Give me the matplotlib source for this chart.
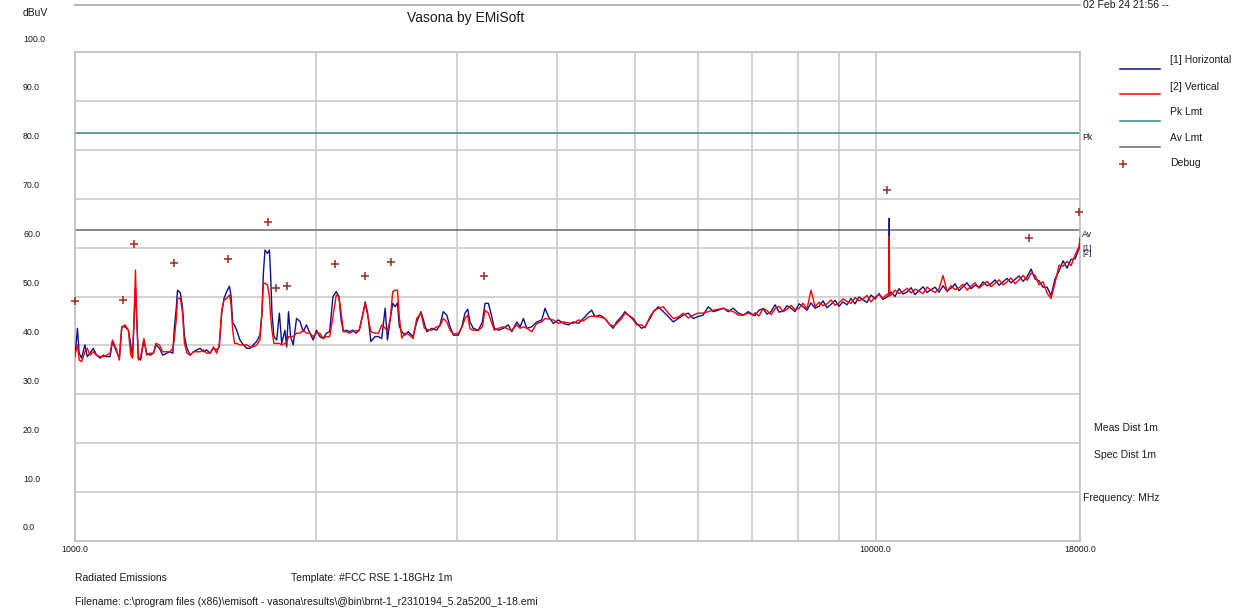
import numpy as np
import matplotlib.pyplot as plt
from matplotlib.lines import Line2D
from matplotlib.ticker import NullFormatter
from matplotlib.transforms import ScaledTranslation, blended_transform_factory

plt.rcParams['font.family'] = ['Liberation Sans', 'DejaVu Sans']

# --- sweep data (MHz, dBuV) ---
freq_low = [1000, 1007, 1012, 1019, 1029, 1036, 1044, 1054, 1064, 1075, 1085, 1095, 1106, 1114,
            1127, 1136, 1144, 1155, 1166, 1174, 1180, 1186, 1190, 1194, 1200, 1208, 1219, 1229,
            1241, 1253, 1262, 1275, 1287, 1302, 1314, 1325, 1330, 1338, 1343, 1354, 1362, 1370,
            1380, 1393, 1406, 1420, 1433, 1447, 1460, 1475, 1489, 1503, 1514, 1525, 1535, 1547,
            1559, 1566, 1574, 1582, 1592, 1607, 1623, 1639, 1654, 1670, 1686, 1702, 1712, 1719,
            1727, 1739, 1749, 1755, 1762, 1772, 1786, 1800, 1812, 1829, 1838, 1848, 1859, 1873,
            1891, 1910, 1928, 1946, 1965, 1984, 2003, 2022, 2041, 2061, 2080, 2100, 2120, 2136,
            2150, 2164, 2181, 2202, 2223, 2244, 2265, 2287, 2304, 2320, 2342, 2370, 2393, 2416,
            2440, 2456, 2475, 2494, 2511, 2528, 2541, 2559]
horiz_low = [37.7, 43.5, 38.4, 37.4, 40.1, 37.7, 38.4, 39.4, 38.0, 37.4, 38.0, 37.7, 37.7, 40.8,
             38.7, 37.4, 43.8, 43.8, 43.1, 40.1, 37.7, 46.6, 52.0, 45.9, 37.4, 37.0, 41.1, 38.4,
             38.0, 38.4, 40.1, 39.4, 38.0, 38.4, 38.7, 38.4, 43.1, 47.6, 51.3, 50.7, 47.9, 41.8,
             39.4, 38.0, 38.7, 39.1, 39.4, 38.7, 39.1, 38.4, 39.4, 39.1, 39.7, 46.6, 49.6, 51.0,
             52.1, 50.3, 44.5, 44.2, 43.1, 41.1, 40.1, 39.4, 39.4, 40.1, 40.8, 42.1, 46.6, 54.7,
             59.5, 58.8, 59.5, 54.7, 46.6, 41.8, 41.1, 46.6, 40.4, 43.1, 39.7, 46.9, 41.8, 40.1,
             45.5, 44.9, 42.8, 44.2, 42.5, 41.1, 43.1, 41.8, 41.4, 42.5, 42.8, 50.0, 51.0, 50.0,
             45.2, 42.8, 43.1, 42.8, 43.1, 42.5, 43.1, 46.2, 48.9, 46.6, 40.8, 41.8, 41.8, 41.4,
             47.6, 41.1, 45.2, 48.6, 47.9, 48.7, 44.0, 42.8]
vert_low = [38.0, 40.1, 37.0, 36.7, 38.7, 39.4, 38.0, 38.7, 38.0, 37.7, 37.7, 38.0, 38.4, 41.1,
            39.1, 37.0, 43.8, 44.2, 43.1, 38.0, 37.4, 47.2, 55.4, 45.9, 37.0, 37.7, 41.4, 38.0,
            38.4, 38.4, 40.4, 40.1, 38.7, 38.7, 38.7, 39.4, 41.1, 45.2, 49.6, 49.6, 46.9, 40.4,
            38.4, 38.0, 38.7, 38.7, 38.7, 39.1, 38.4, 38.4, 39.7, 38.4, 40.1, 47.2, 49.3, 49.6,
            50.3, 48.6, 43.0, 40.4, 40.4, 40.1, 40.1, 40.1, 39.7, 39.7, 40.1, 41.1, 46.6, 52.7,
            52.7, 52.4, 50.0, 46.0, 43.1, 40.4, 40.4, 40.4, 40.1, 40.4, 40.6, 41.8, 41.8, 41.8,
            42.5, 42.5, 43.1, 42.5, 42.5, 41.8, 42.5, 42.5, 41.4, 41.8, 41.8, 45.9, 50.3, 50.0,
            46.6, 42.8, 42.8, 42.5, 42.8, 43.0, 43.1, 46.2, 48.6, 46.2, 42.8, 42.5, 42.5, 44.2,
            43.5, 43.0, 45.2, 51.0, 51.3, 51.3, 46.0, 41.5]

freq_mid = [2583, 2608, 2644, 2672, 2705, 2731, 2750, 2790, 2830, 2857, 2884, 2913, 2941, 2969,
            3012, 3041, 3070, 3094, 3114, 3144, 3190, 3227, 3252, 3283, 3308, 3340, 3379, 3428,
            3478, 3512, 3563, 3597, 3631, 3667, 3720, 3774, 3828, 3865, 3902, 3958, 4016, 4074,
            4133, 4193, 4254, 4315, 4377, 4419, 4461, 4526, 4591, 4658, 4702, 4747, 4817, 4863,
            4910, 4981, 5029, 5102, 5151, 5226, 5277, 5353, 5430, 5508, 5588, 5669, 5751, 5834,
            5918, 6003, 6090, 6180, 6270, 6360, 6453, 6546, 6641, 6737, 6835, 6934, 7035]
horiz_mid = [42.1, 42.8, 41.8, 44.8, 46.9, 44.5, 42.8, 43.5, 43.1, 44.2, 46.9, 46.2, 43.8, 42.1,
             42.1, 43.8, 46.6, 47.4, 44.8, 43.5, 43.1, 44.8, 48.6, 48.6, 46.6, 43.5, 43.1, 43.5,
             44.2, 42.8, 44.8, 43.8, 45.5, 43.5, 43.8, 44.8, 45.2, 47.6, 45.9, 44.5, 45.2, 44.5,
             44.2, 44.8, 44.5, 45.5, 46.6, 47.2, 45.9, 46.2, 45.5, 44.2, 43.5, 44.8, 45.9, 46.9,
             46.2, 45.5, 44.5, 43.5, 43.8, 45.5, 46.9, 47.9, 46.9, 45.9, 44.8, 45.5, 46.2, 46.6,
             45.5, 45.9, 46.2, 47.9, 46.9, 47.2, 47.6, 46.9, 47.6, 46.6, 46.2, 46.9, 46.2]
vert_mid = [42.5, 42.3, 41.4, 45.5, 46.6, 43.5, 43.3, 43.1, 43.8, 44.0, 45.5, 44.8, 43.1, 42.3,
            42.5, 43.6, 45.5, 46.2, 43.4, 43.1, 43.1, 43.8, 47.2, 46.6, 45.0, 43.1, 43.5, 43.8,
            43.3, 43.1, 44.2, 43.5, 43.8, 43.5, 42.8, 44.5, 44.8, 45.5, 45.4, 45.2, 44.5, 44.8,
            44.6, 44.5, 45.2, 45.0, 45.8, 46.0, 45.9, 45.8, 45.5, 44.2, 44.0, 44.4, 45.5, 46.6,
            46.2, 45.2, 44.2, 44.2, 43.6, 45.9, 46.9, 47.6, 47.9, 46.6, 45.5, 45.8, 46.6, 45.6,
            46.2, 46.6, 46.6, 46.9, 47.2, 47.4, 47.6, 47.2, 46.9, 46.2, 46.2, 46.6, 46.2]

freq_high = [7069, 7151, 7234, 7317, 7402, 7488, 7574, 7662, 7751, 7840, 7931, 8023, 8116, 8210,
             8305, 8401, 8498, 8596, 8696, 8796, 8898, 9001, 9105, 9210, 9317, 9425, 9534, 9644,
             9756, 9869, 9983, 10098, 10215, 10333, 10392, 10400, 10408, 10453, 10574, 10696,
             10820, 10945, 11072, 11200, 11330, 11461, 11594, 11728, 11864, 12001, 12140, 12280,
             12422, 12566, 12711, 12858, 13007, 13158, 13310, 13464, 13620, 13777, 13937, 14098,
             14261, 14426, 14593, 14762, 14933, 15106, 15281, 15458, 15637, 15818, 16001, 16186,
             16373, 16562, 16754, 16948, 17144, 17342, 17543, 17746, 17952, 18000]
horiz_high = [46.1, 47.2, 47.5, 46.4, 46.9, 48.3, 46.8, 47.0, 48.1, 47.6, 46.9, 48.5, 47.9, 47.2,
              48.7, 47.6, 48.0, 49.1, 47.7, 48.4, 49.2, 48.0, 48.9, 48.3, 49.6, 48.5, 49.9, 49.3,
              48.8, 50.3, 49.5, 50.6, 49.4, 49.9, 50.2, 66.0, 50.4,
              50.9, 50.0, 51.6, 50.5, 50.9, 51.8, 50.4, 51.2, 52.0, 50.8, 51.4, 51.9, 50.9, 52.2,
              51.1, 51.7, 52.6, 51.2, 52.0, 52.8, 51.6, 52.3, 51.9, 53.0, 52.2, 52.6, 53.4, 52.3,
              53.0, 53.7, 52.8, 53.5, 54.2, 53.1, 54.0, 55.6, 53.6, 53.2, 51.9, 51.9, 50.2, 53.6,
              55.2, 57.3, 55.8, 57.6, 57.7, 59.8, 61.5]
vert_high = [46.7, 46.0, 47.6, 47.1, 46.3, 47.5, 48.0, 46.9, 47.4, 48.2, 47.3, 47.6, 48.6, 47.5,
             51.3, 47.9, 48.8, 48.1, 48.5, 49.3, 48.2, 48.7, 49.5, 49.0, 48.6, 49.8, 49.1, 49.5,
             50.2, 48.9, 49.9, 50.4, 49.7, 50.5, 50.0, 62.2, 50.2,
             50.3, 51.3, 50.6, 51.0, 51.7, 50.7, 51.5, 51.1, 50.6, 51.9, 51.3, 50.8, 51.6, 54.3,
             51.0, 52.2, 51.4, 51.8, 52.5, 51.3, 52.1, 52.8, 51.7, 52.4, 53.1, 52.0, 52.7, 53.4,
             52.4, 53.0, 53.8, 52.6, 53.4, 54.3, 53.3, 54.8, 54.3, 52.4, 53.0, 50.7, 49.6, 52.8,
             56.4, 56.2, 57.2, 56.3, 58.5, 60.2, 62.0]

# debug peaks and limits
debug_freq = [1000, 1148, 1185, 1329, 1553, 1742, 1782, 1840, 2112, 2303, 2481, 3242,
              10330, 15540, 17960]
debug_level = [49.1, 49.3, 60.7, 56.9, 57.7, 65.2, 51.7, 52.1, 56.6, 54.2, 57.1, 54.2,
               71.8, 62.0, 67.3]
pk_limit = 83.5
av_limit = 63.5

y_ticks = [0, 10, 20, 30, 40, 50, 60, 70, 80, 90, 100]
x_ticks = [1000, 10000, 18000]
x_grid = [2000, 3000, 4000, 5000, 6000, 7000, 8000, 9000]

freq = np.concatenate([freq_low, freq_mid, freq_high])
horiz = np.concatenate([horiz_low, horiz_mid, horiz_high])
vert = np.concatenate([vert_low, vert_mid, vert_high])

W, H = 1240, 613
TXT = '#1a1a1a'
C_H = '#10108a'
C_V = '#ff0000'
C_PK = '#2e8a80'
C_AV = '#6a6a6a'
C_DBG = '#9a2a22'
GRID = '#cbcbcb'


def fx(px):
    return px / W


def fy(py):
    return 1 - py / H


fig = plt.figure(figsize=(W / 100, H / 100), dpi=100)
ax = fig.add_axes([fx(75), fy(541), fx(1080) - fx(75), fy(52) - fy(541)])
ax.set_xscale('log')
ax.set_xlim(1000, 18000)
ax.set_ylim(0, 100)

ax.set_xticks(x_ticks)
ax.set_xticklabels([f'{t:.1f}' for t in x_ticks])
ax.set_xticks(x_grid, minor=True)
ax.xaxis.set_minor_formatter(NullFormatter())
ax.set_yticks(y_ticks)
ax.set_yticklabels([f'{t:.1f}' for t in y_ticks])
ax.grid(True, which='both', color=GRID, lw=1.2)
ax.set_axisbelow(True)
ax.tick_params(which='both', length=0, labelsize=6.3, colors=TXT)
ax.tick_params(axis='x', pad=3)
ax.tick_params(axis='y', pad=0)
for lab in ax.get_yticklabels():
    lab.set_horizontalalignment('left')
    lab.set_transform(lab.get_transform() + ScaledTranslation(-0.52, 0.14, fig.dpi_scale_trans))
for s in ax.spines.values():
    s.set_color('#c0c0c0')
    s.set_linewidth(1.2)

# limit lines
ax.axhline(pk_limit, color=C_PK, lw=1.1, zorder=2)
ax.axhline(av_limit, color=C_AV, lw=1.1, zorder=2)

# traces
ax.plot(freq, horiz, color=C_H, lw=1.0, zorder=3)
ax.plot(freq, vert, color=C_V, lw=1.0, zorder=4)
ax.plot(debug_freq, debug_level, ls='none', marker='+', ms=6, mew=1.1,
        color=C_DBG, zorder=5, clip_on=False)

# right-edge tags
edge = blended_transform_factory(ax.transAxes, ax.transData)
ax.text(1.002, pk_limit, 'Pk', transform=edge, va='top', ha='left', fontsize=6.3, color=TXT)
ax.text(1.002, av_limit, 'Av', transform=edge, va='top', ha='left', fontsize=6.3, color=TXT)
ax.text(1.002, horiz[-1] - 1.6, '[1]', transform=edge, va='center', ha='left', fontsize=6,
        color='#20205a')
ax.text(1.002, vert[-1] - 3.3, '[2]', transform=edge, va='center', ha='left', fontsize=6,
        color='#202020')

# header
fig.add_artist(Line2D([fx(75), fx(1080)], [fy(5), fy(5)], color='#a8a8a8', lw=1.2))
fig.text(fx(1083), fy(0.5), '02 Feb 24 21:56 --', fontsize=7.5, color=TXT, va='top', ha='left')
fig.text(fx(466), fy(18), 'Vasona by EMiSoft', fontsize=10, color=TXT, va='center', ha='center')
fig.text(fx(23), fy(13), 'dBuV', fontsize=7.5, color=TXT, va='center', ha='left')

# legend
legend_rows = [('[1] Horizontal', C_H, '-'), ('[2] Vertical', C_V, '-'),
               ('Pk Lmt', C_PK, '-'), ('Av Lmt', C_AV, '-'), ('Debug', C_DBG, '+')]
text_y = [60, 87, 112, 138, 163]
line_y = [69, 94, 121, 147, 164]
for (name, col, kind), ty, ly in zip(legend_rows, text_y, line_y):
    if kind == '-':
        fig.add_artist(Line2D([fx(1120), fx(1160)], [fy(ly), fy(ly)], color=col, lw=1.1))
    else:
        fig.add_artist(Line2D([fx(1123)], [fy(ly)], color=col, marker='+', ms=6, mew=1.1))
    fig.text(fx(1170), fy(ty), name, fontsize=7.5, color=TXT, va='center', ha='left')

# side notes
fig.text(fx(1094), fy(428), 'Meas Dist 1m', fontsize=7.5, color=TXT, va='center')
fig.text(fx(1094), fy(455), 'Spec Dist 1m', fontsize=7.5, color=TXT, va='center')
fig.text(fx(1083), fy(498), 'Frequency: MHz', fontsize=7.5, color=TXT, va='center')

# footer
fig.text(fx(75), fy(578), 'Radiated Emissions', fontsize=7.5, color=TXT, va='center')
fig.text(fx(291), fy(578), 'Template: #FCC RSE 1-18GHz 1m', fontsize=7.5, color=TXT, va='center')
fig.text(fx(75), fy(602),
         r'Filename: c:\program files (x86)\emisoft - vasona\results\@bin\brnt-1_r2310194_5.2a5200_1-18.emi',
         fontsize=7.5, color=TXT, va='center')

fig.savefig('out.png', dpi=100)
